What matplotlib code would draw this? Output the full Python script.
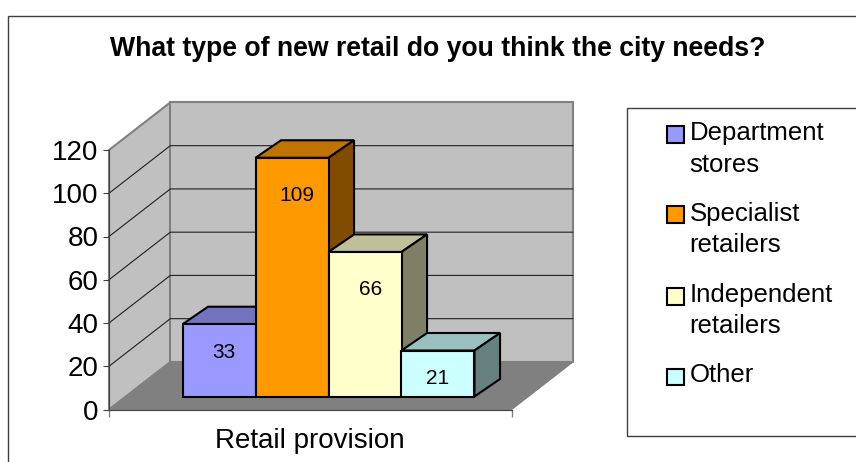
import matplotlib
matplotlib.use('Agg')
import matplotlib.pyplot as plt
from matplotlib.patches import Polygon, Rectangle

plt.rcParams['font.family'] = ['Liberation Sans', 'DejaVu Sans']

# data
title = 'What type of new retail do you think the city needs?'
category = 'Retail provision'
series = ['Department\nstores', 'Specialist\nretailers', 'Independent\nretailers', 'Other']
values = [33, 109, 66, 21]
yticks = [0, 20, 40, 60, 80, 100, 120]

# colours: front, top, side
front = ['#9999FF', '#FF9900', '#FFFFCC', '#CCFFFF']
top = ['#7272BF', '#BF7300', '#BFBF99', '#99BFBF']
side = ['#4C4C7F', '#7F4C00', '#7F7F66', '#667F7F']

W, H = 856, 462
fig = plt.figure(figsize=(W / 100, H / 100), dpi=100)


def px_box(x0, y0, x1, y1):
    # pixel box (y down) to figure fractions
    return [x0 / W, 1 - y1 / H, (x1 - x0) / W, (y1 - y0) / H]


# outer chart frame and legend frame, cut off by the picture edge
fig.add_artist(Rectangle((8 / W, -0.1), 1, 1.1 - 16 / H, transform=fig.transFigure,
                         fill=False, ec='#404040', lw=1))
fig.add_artist(Rectangle((627 / W, 1 - 436 / H), 1, 328 / H, transform=fig.transFigure,
                         fill=False, ec='#404040', lw=1))

# axis box: ticks, walls and floor
ax = fig.add_axes(px_box(109, 150, 511.5, 409.5))
xmax = 402.5 / 73
ax.set_xlim(0, xmax)
ax.set_ylim(0, 120)
wall_dx, wall_dy = 0.84, 22.0

ax.add_patch(Polygon([(0, 0), (xmax, 0), (xmax + wall_dx, wall_dy), (wall_dx, wall_dy)],
                     fc='#808080', ec='#808080', lw=1, clip_on=False, zorder=1))
ax.add_patch(Polygon([(0, 0), (wall_dx, wall_dy), (wall_dx, 120 + wall_dy), (0, 120)],
                     fc='#C0C0C0', ec='#808080', lw=1.5, clip_on=False, zorder=1))
ax.add_patch(Polygon([(wall_dx, wall_dy), (xmax + wall_dx, wall_dy),
                      (xmax + wall_dx, 120 + wall_dy), (wall_dx, 120 + wall_dy)],
                     fc='#C0C0C0', ec='#808080', lw=1.5, clip_on=False, zorder=1))

# gridlines on side wall and back wall
for v in yticks[1:-1]:
    ax.plot([0, wall_dx, xmax + wall_dx], [v, v + wall_dy, v + wall_dy],
            color='#202020', lw=0.8, clip_on=False, zorder=2)

ax.set_yticks(yticks)
ax.set_xticks([0, xmax])
ax.set_xticklabels([])
ax.tick_params(axis='y', labelsize=20, length=4.5, width=0.8, pad=3, color='#404040')
ax.tick_params(axis='x', length=5, width=1, color='#808080')
for s in ['top', 'right']:
    ax.spines[s].set_visible(False)
ax.spines['left'].set_color('#404040')
ax.spines['bottom'].set_color('#404040')
ax.spines['left'].set_zorder(2)
ax.spines['bottom'].set_zorder(2)
ax.set_xlabel(category, fontsize=20)
ax.xaxis.set_label_coords((310 - 109) / 402.5, -(441 - 409.5) / 259.5)
ax.xaxis.label.set_va('center')

# bars sit on a plane set back from the axis box, so it has its own scale
bar_ax = fig.add_axes(px_box(182.5, 396.5 - 120 * 2.19, 474.5, 396.5))
bar_ax.set_xlim(0, 4)
bar_ax.set_ylim(0, 120)
bar_ax.axis('off')
bar_ax.patch.set_alpha(0)
bar_dx, bar_dy = 0.35, 8.0

label_y = [20, 92, 49, 8]
label_dx = [0.06, 0.07, 0.08, 0.0]
for i, v in enumerate(values):
    z = 3 + i
    bar_ax.bar(i, v, width=1, align='edge', color=front[i], ec='black',
               lw=1.5, clip_on=False, zorder=z + 0.5)
    bar_ax.add_patch(Polygon([(i, v), (i + 1, v), (i + 1 + bar_dx, v + bar_dy), (i + bar_dx, v + bar_dy)],
                             fc=top[i], ec='black', lw=1.5, clip_on=False, zorder=z))
    bar_ax.add_patch(Polygon([(i + 1, 0), (i + 1 + bar_dx, bar_dy),
                              (i + 1 + bar_dx, v + bar_dy), (i + 1, v)],
                             fc=side[i], ec='black', lw=1.5, clip_on=False, zorder=z))
    bar_ax.text(i + 0.5 + label_dx[i], label_y[i], str(v), ha='center', va='center',
                fontsize=15, zorder=20)

fig.text(438 / W, 1 - 56 / H, title, ha='center', va='baseline', fontsize=19.2, fontweight='bold')

# legend, swatch lines up with the first text line
swatch_y = [126, 206, 288, 368.5]
last_baseline = [171.5, 252, 333, 382]
for name, c, sy, base in zip(series, front, swatch_y, last_baseline):
    fig.add_artist(Rectangle((667 / W, 1 - (sy + 16.5) / H), 17 / W, 16.5 / H,
                             transform=fig.transFigure, fc=c, ec='black', lw=1.5))
    fig.text(689.5 / W, 1 - base / H, name, ha='left', va='baseline',
             fontsize=18.5, linespacing=1.39)

fig.savefig('out.png', dpi=100)
